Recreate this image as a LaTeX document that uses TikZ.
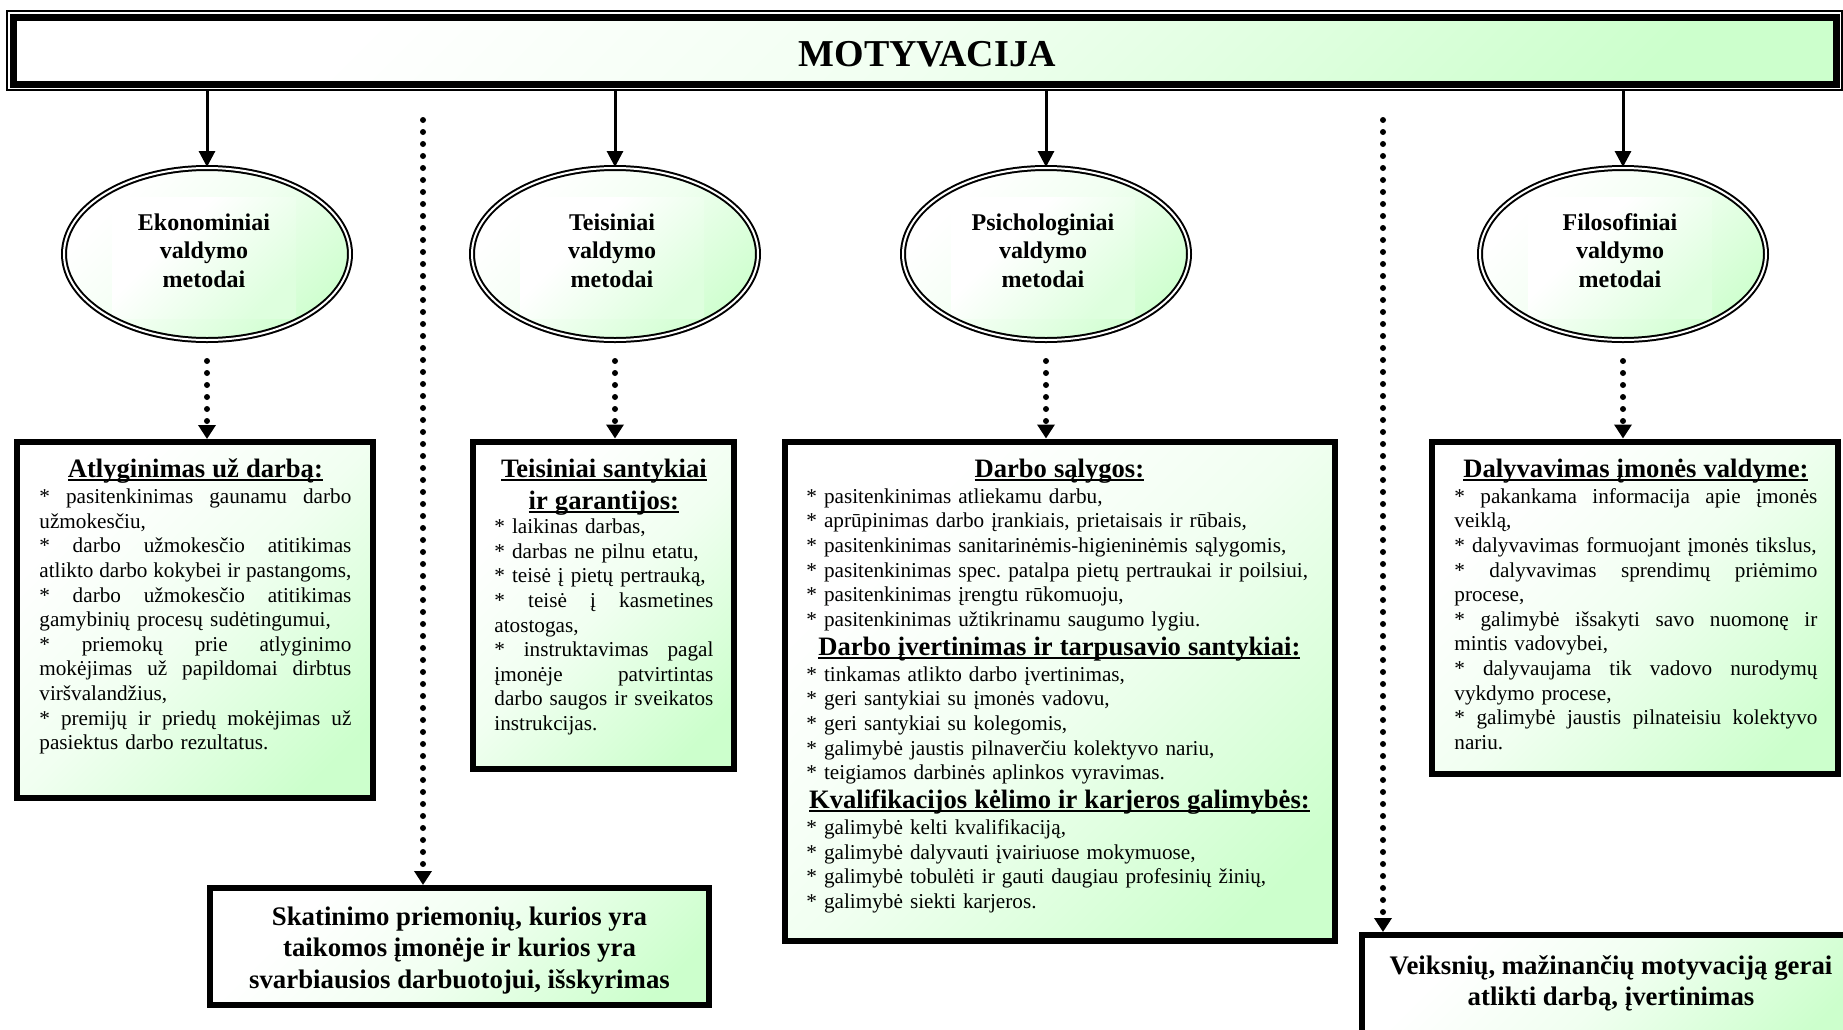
\documentclass[tikz,border=0pt]{standalone}
\usepackage{fontspec}
\setmainfont{Liberation Serif}
\usetikzlibrary{arrows.meta,shapes.geometric,fit}
\definecolor{lgreen}{RGB}{204,255,204}
\pgfdeclareverticalshading{wgshade}{100bp}{color(0bp)=(lgreen); color(22bp)=(lgreen); color(50bp)=(white!72!lgreen); color(72bp)=(white); color(100bp)=(white)}
\pgfdeclareverticalshading{wgshadel}{100bp}{color(0bp)=(lgreen!65!white); color(25bp)=(lgreen!65!white); color(62bp)=(white); color(100bp)=(white)}
\newlength\jw
\newcommand\ulh[1]{\leavevmode\setbox0\hbox{#1}\rlap{\rule[-1.7pt]{\wd0}{0.9pt}}\box0}
\newcommand\bodyf{\fontsize{10.6pt}{12.3pt}\selectfont}
\newcommand\headf{\fontsize{13.3pt}{15pt}\selectfont\bfseries}
\newcommand\hd[1]{{\headf\centering\ulh{#1}\par}}
\newcommand\jl[1]{\leavevmode\hbox to \jw{\spaceskip=0pt\xspaceskip=0pt\relax #1}\par}
\newcommand\bl[1]{\leavevmode#1\par}
\newcommand\hgap{\vspace{0.7pt}}
\begin{document}
\begin{tikzpicture}[x=0.5pt,y=-0.5pt,
  gshade/.style={shading=wgshade,shading angle=45},
  lshade/.style={shading=wgshadel,shading angle=45},
  box/.style={rectangle,draw,line width=3pt,gshade,inner sep=0pt},
  ellf/.style={ellipse,gshade,inner sep=0pt,minimum width=143pt,minimum height=86pt},
  ell/.style={ellipse,draw,line width=1pt,double=white,double distance=1pt,inner sep=0pt,minimum width=143pt,minimum height=86pt},
  irect/.style={rectangle,lshade,inner sep=0pt,minimum width=92pt,minimum height=60.5pt},
  etxt/.style={inner sep=0pt,align=center,font=\fontsize{12pt}{14.2pt}\selectfont\bfseries},
  btxt/.style={inner sep=0pt,align=center,font=\fontsize{13.4pt}{15.6pt}\selectfont\bfseries},
  txt/.style={anchor=north west,inner sep=0pt,align=left,font=\bodyf,execute at begin node={\parskip=0pt\parindent=0pt}},
  solidarrow/.style={line width=1.5pt,-{Triangle[width=8pt,length=8pt]}},
  dotarrow/.style={line width=3pt,line cap=round,dash pattern=on 0pt off 6pt,-{Triangle[width=8.5pt,length=7pt]}}
]
\useasboundingbox (0,0) rectangle (1843,1029);
\fill[white] (0,0) rectangle (1843,1029);
\clip (0,0) rectangle (1843,1029);

% title
\node[rectangle,draw,line width=3.5pt,gshade,outer sep=0pt,minimum width=911.5pt,minimum height=33.5pt] (title) at (924.5,50.5) {};
\node[rectangle,draw,line width=0.75pt,inner sep=3pt,outer sep=0pt,fit=(title)] (tframe) {};
\node[inner sep=0pt,font=\fontsize{19pt}{20pt}\selectfont\bfseries] (ttext) at (927,54) {MOTYVACIJA};

% ellipses
\foreach \i/\cx in {1/207,2/615,3/1046,4/1623}{
  \node[ellf] (ef\i) at (\cx,254) {};
  \node[irect] (r\i) at (\cx-3,257.5) {};
  \node[ell] (e\i) at (\cx,254) {};
}
\node[etxt] (et1) at (204,250.5) {Ekonominiai\\valdymo\\metodai};
\node[etxt] (et2) at (612,250.5) {Teisiniai\\valdymo\\metodai};
\node[etxt] (et3) at (1043,250.5) {Psichologiniai\\valdymo\\metodai};
\node[etxt] (et4) at (1620,250.5) {Filosofiniai\\valdymo\\metodai};

% boxes
\node[box,minimum width=178pt,minimum height=178pt] (b1) at (195,620) {};
\node[box,minimum width=130.5pt,minimum height=163.5pt] (b2) at (603.5,605) {};
\node[box,minimum width=275pt,minimum height=249.5pt] (b3) at (1060,691) {};
\node[box,minimum width=203pt,minimum height=166pt] (b4) at (1635,607.5) {};
\node[box,minimum width=249.5pt,minimum height=58.5pt] (b5) at (459.5,946.5) {};
\node[box,minimum width=249pt,minimum height=55pt] (b6) at (1611,990) {};

\node[txt,text width=156pt] (t1) at (39,458.5) {\setlength\jw{156pt}%
\hd{Atlyginimas už darbą:}\hgap
\jl{* pasitenkinimas gaunamu darbo}
\bl{užmokesčiu,}
\jl{* darbo užmokesčio atitikimas}
\jl{atlikto darbo kokybei ir pastangoms,}
\jl{* darbo užmokesčio atitikimas}
\bl{gamybinių procesų sudėtingumui,}
\jl{* priemokų prie atlyginimo}
\jl{mokėjimas už papildomai dirbtus}
\bl{viršvalandžius,}
\jl{* premijų ir priedų mokėjimas už}
\bl{pasiektus darbo rezultatus.}};

\node[txt,text width=109.5pt] (t2) at (494,458.5) {\setlength\jw{109.5pt}%
\hd{Teisiniai santykiai}\vspace{0.9pt}
\hd{ir garantijos:}
\bl{* laikinas darbas,}
\bl{* darbas ne pilnu etatu,}
\bl{* teisė į pietų pertrauką,}
\jl{* teisė į kasmetines}
\bl{atostogas,}
\jl{* instruktavimas pagal}
\jl{įmonėje patvirtintas}
\jl{darbo saugos ir sveikatos}
\bl{instrukcijas.}};

\node[txt,text width=253pt] (t3) at (806,458.5) {\setlength\jw{253pt}%
\hd{Darbo sąlygos:}\hgap
\bl{* pasitenkinimas atliekamu darbu,}
\bl{* aprūpinimas darbo įrankiais, prietaisais ir rūbais,}
\bl{* pasitenkinimas sanitarinėmis-higieninėmis sąlygomis,}
\bl{* pasitenkinimas spec.\ patalpa pietų pertraukai ir poilsiui,}
\bl{* pasitenkinimas įrengtu rūkomuoju,}
\bl{* pasitenkinimas užtikrinamu saugumo lygiu.}\vspace{-0.5pt}
\hd{Darbo įvertinimas ir tarpusavio santykiai:}\hgap
\bl{* tinkamas atlikto darbo įvertinimas,}
\bl{* geri santykiai su įmonės vadovu,}
\bl{* geri santykiai su kolegomis,}
\bl{* galimybė jaustis pilnaverčiu kolektyvo nariu,}
\bl{* teigiamos darbinės aplinkos vyravimas.}\vspace{-0.5pt}
\hd{Kvalifikacijos kėlimo ir karjeros galimybės:}\hgap
\bl{* galimybė kelti kvalifikaciją,}
\bl{* galimybė dalyvauti įvairiuose mokymuose,}
\bl{* galimybė tobulėti ir gauti daugiau profesinių žinių,}
\bl{* galimybė siekti karjeros.}};

\node[txt,text width=181.5pt] (t4) at (1454,458.5) {\setlength\jw{181.5pt}%
\hd{Dalyvavimas įmonės valdyme:}\hgap
\jl{* pakankama informacija apie įmonės}
\bl{veiklą,}
\bl{* dalyvavimas formuojant įmonės tikslus,}
\jl{* dalyvavimas sprendimų priėmimo}
\bl{procese,}
\jl{* galimybė išsakyti savo nuomonę ir}
\bl{mintis vadovybei,}
\jl{* dalyvaujama tik vadovo nurodymų}
\bl{vykdymo procese,}
\jl{* galimybė jaustis pilnateisiu kolektyvo}
\bl{nariu.}};

\node[btxt] (t5) at (459.5,950.5) {Skatinimo priemonių, kurios yra\\taikomos įmonėje ir kurios yra\\svarbiausios darbuotojui, išskyrimas};
\node[btxt] (t6) at (1611,983) {Veiksnių, mažinančių motyvaciją gerai\\atlikti darbą, įvertinimas};

% connectors
\foreach \i in {1,2,3,4}{
  \draw[solidarrow] (tframe.south -| e\i.north) -- (e\i.north);
  \draw[dotarrow] ([yshift=-10pt]e\i.south) -- (e\i.south |- b\i.north);
}
\coordinate (s1) at (423,120);
\coordinate (s2) at (1383,120);
\draw[dotarrow] (s1) -- (s1 |- b5.north);
\draw[dotarrow] (s2) -- (s2 |- b6.north);
\end{tikzpicture}
\end{document}
